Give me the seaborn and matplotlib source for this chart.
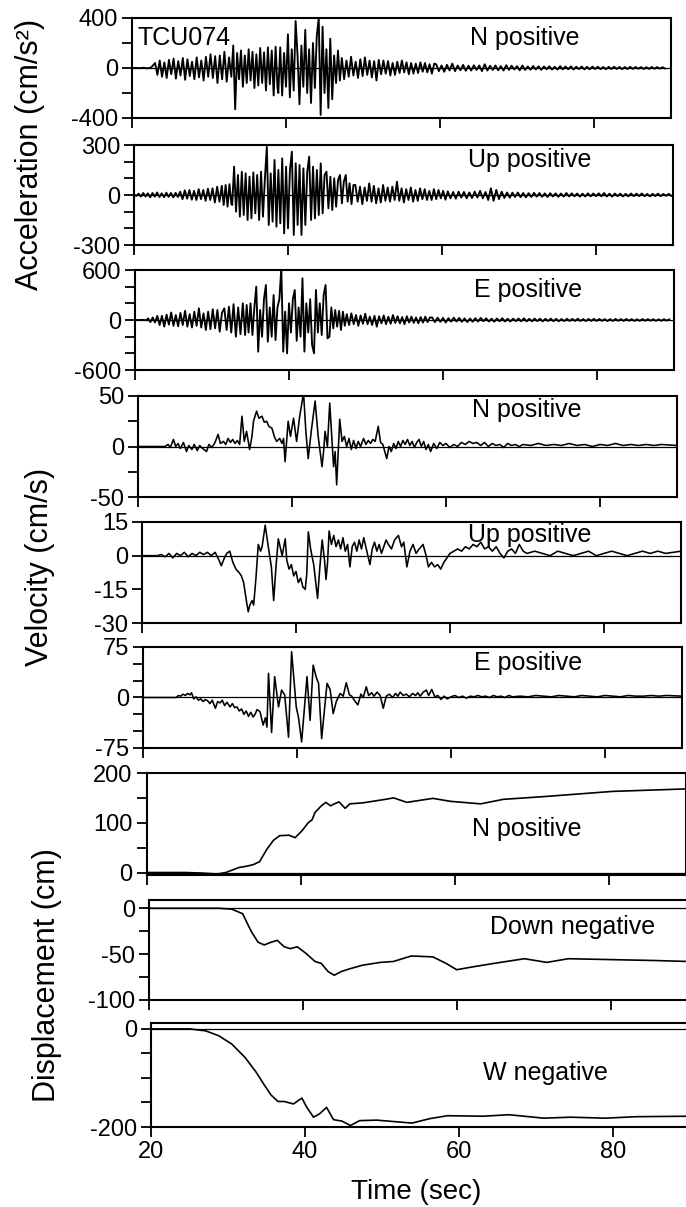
import numpy as np
import pandas as pd
import matplotlib
matplotlib.use("Agg")
import matplotlib.pyplot as plt
import seaborn as sns

# ---------------- data (TCU074) ----------------
# Acceleration traces: segments of (start time [s], sample step [s], values [cm/s^2])
ACC_N = [
    (20.0, 0.5, [0, 1, -1, 2, -3, 5]),
    (23.0, 0.3, [40, -55, 60, -70, 45, -80, 65, -50, 75, -85, 55, -60, 80, -95, 70, -65, 50,
                 -90, 85, -75, 60, -100, 90, -70, 110, -80, 95, -120, 100, -90, 130, -110, 85, -70]),
    (33.15, 0.25, [180, -330, 120, -90, 140, -150, 100, -120, 150, -100, 130, -160, 110, -140,
                   160, -120, 125, -180, 165, -130, 140, -220, 170, -160]),
    (39.0, 0.25, [-200, 165, -220, 120, -150, 270, -235, 150, -180, 375, 100, -290, 180, -150,
                  305, -200, 150, -280, 200, -160, 260, 400, -375, 330, -200, 150, -320, 235,
                  -250, 100, -120, 140, -100]),
    (47.25, 0.3, [80, -90, 60, -70, 90, -60, 50, -80, 70, -65, 85, -55, 60, -75, 55, -100, 65,
                  -50, 60, -45, 55, -60, 40, -55, 50, -40, 60, -35, 45, -50, 40, -45, 35, -40,
                  45, -30, 40, -35, 30, -45, 35]),
    (59.5, 0.35, [30, -25, 20, -30, 25, -20, 35, -25, 20, -18, 25, -22, 18, -20, 22, -15, 20,
                  -25, 30, -20, 18, -15, 20, -18, 15, -20, 22, -15, 18, -12, 15, -18, 20, -15,
                  12, -14, 16, -12, 14, -15, 12, -10, 14, -12, 10, -13, 15, -11, 12, -10, 13,
                  -12, 10, -9, 12, -11, 9, -10, 11, -8, 10, -9, 8, -10, 9, -8, 10, -7, 8, -9,
                  7, -8, 9, -7, 8, -6, 7, -8, 6, -7, 8, -6, 7, -5, 6, -5]),
]
ACC_UP = [
    (20.0, 0.3, [3, -5, 8, -10, 12, -9, 10, -14, 12, -10, 15, -12, 10, -13, 14, -11, 12, -15, 13, -12]),
    (26.0, 0.3, [20, -25, 28, -22, 30, -28, 25, -30, 35, -25, 30, -35, 38, -30, 40, -45, 50, -40]),
    (31.4, 0.25, [55, -60, 60, -70, 65, -55]),
    (32.75, 0.25, [-60, 170, -100, 120, -130, 140, -120, 130, -150, 110, -140, 135, -110, 120,
                   -150, 140, -130, 100, 290, -180, 130, -160, 210, -190, 150, -170, 220, -230,
                   170, -200, 150, 260, -240, 190, -180, 180, -240, 160, -180, 140, 230, -150,
                   170, -140, 150, -120, 190, -110, 120, 140, -80, 110, -90, 100, -70, 90, 120,
                   -50, 80, 120, -40, 70, -55, 60]),
    (48.75, 0.3, [60, -40, 50, -55, 45, -35, 70, -40, 55, -50, 40, -45, 60, -35, 45, -40, 50,
                  -30, 80, -35, 40, -45, 35, -30, 45, -40, 30, -35, 40, -25, 35, -30, 25, -30,
                  35, -25, 30, -20, 25, -28]),
    (60.75, 0.35, [22, -20, 18, -22, 20, -15, 18, -20, 15, -18, 20, -15, 25, -20, 18, -30, 40,
                   -35, 30, -25, 20, -18, 15, -16, 14, -12, 15, -13, 12, -14, 11, -12, 13, -10,
                   12, -11, 10, -12, 11, -9, 10, -11, 9, -10, 12, -9, 10, -8, 9, -10, 8, -9, 10,
                   -8, 9, -7, 10, -8, 12, -9, 8, -10, 9, -7, 8, -9, 7, -8, 9, -7, 8, -6, 9, -7,
                   6, -8, 7, -6, 8, -7, 6, -5, 7, -6]),
]
ACC_E = [
    (20.0, 0.5, [0, 0, 2, -3]),
    (21.7, 0.3, [20, -25, 30, -30, 50, -60, 50, -80, 65, -55, 90, -70, 60, -75, 85, -60, 110,
                 -80, 70, -90, 100, -70, 140, -90, 80, -120, 100, -110, 130, -100, 120, -140, 90]),
    (31.6, 0.3, [140, -120, 160, -150, 190, -200, 150, -170, 200, -180]),
    (34.5, 0.25, [180, -150, 200, -180, 150, 400, -380, 120, -200, 250, 420, -260, 150, -200,
                  300, -240, 150, 250, 620, -380, 100, -400, 200, -150, 250, 360, -250, 150,
                  -200, 500, -380, 200, -150, 250, -300, -400, 360, -150, 200, -180, 300, 420,
                  -220, -200, 150, -100, 120, -80, 110, -120, 100, -70]),
    (47.5, 0.3, [70, -60, 80, -50, 60, -70, 55, -45, 75, -50, 40, -60, 50, -80, 45, -40, 55,
                 -50, 40, -45, 60, -35, 45, -40, 35, -50, 45, -30, 40, -35, 30, -40, 35, -30,
                 40, -25, 30]),
    (58.6, 0.35, [30, -25, 28, -22, 25, -30, 22, -20, 28, -18, 25, -22, 20, -25, 18, -20, 22,
                  -18, 25, -15, 20, -18, 16, -20, 18, -15, 22, -17, 15, -18, 16, -14, 18, -15,
                  20, -16, 14, -15, 17, -13, 15, -16, 14, -12, 16, -14, 13, -15, 12, -13, 14,
                  -12, 13, -11, 15, -12, 11, -13, 12, -10, 14, -11, 12, -10, 11, -12, 10, -11,
                  12, -9, 11, -10, 12, -9, 10, -11, 9, -10, 11, -9, 10, -8, 9, -10, 8, -9, 10,
                  -8, 9]),
]

# Velocity traces: (time [s], value [cm/s])
VEL_N = [(20, 0), (23.5, 0), (23.9, 2), (24.2, -1), (24.6, 7), (24.9, 0), (25.2, 3), (25.5, -2),
         (25.9, 4), (26.3, -5), (26.6, 1), (27.0, -3), (27.3, 2), (27.7, -4), (28.0, 1), (28.4, -2),
         (28.9, -5), (29.2, 2), (29.6, -1), (30.0, 4), (30.4, 12), (30.7, 3), (31.1, 5), (31.4, 2),
         (31.7, 8), (32.0, 4), (32.3, 7), (32.6, 3), (32.9, 6), (33.2, 2), (33.5, 30), (33.8, 5),
         (34.1, 15), (34.5, -3), (34.8, 10), (35.0, 25), (35.4, 35), (35.7, 28), (36.1, 30),
         (36.4, 24), (36.7, 25), (37.0, 20), (37.4, 18), (37.7, 10), (38.0, 5), (38.4, 8),
         (38.7, 3), (38.9, 8), (39.1, -15), (39.5, 25), (39.8, 10), (40.2, 28), (40.6, 5),
         (41.0, 30), (41.5, 53), (41.8, 15), (42.1, -12), (42.5, 15), (43.0, 45), (43.4, 10),
         (43.9, -20), (44.1, -5), (44.3, 15), (44.6, 0), (44.9, 43), (45.2, 5), (45.4, -20),
         (45.6, -5), (45.8, -38), (46.2, 27), (46.5, 5), (46.8, 10), (47.1, 0), (47.4, 8),
         (47.7, -3), (48.0, 6), (48.3, -2), (48.6, 5), (48.9, 0), (49.3, 8), (49.6, 2), (49.9, 6),
         (50.2, 3), (50.5, 7), (50.8, 5), (51.2, 20), (51.5, 4), (51.8, 2), (52.3, -12), (52.6, 0),
         (52.9, -5), (53.2, 3), (53.5, -2), (53.8, 5), (54.1, 0), (54.4, 6), (54.7, 2), (55.0, 7),
         (55.3, 1), (55.6, 5), (55.9, -1), (56.2, 4), (56.5, 7), (56.8, 0), (57.1, 5), (57.4, -3),
         (57.7, 2), (58.0, -5), (58.4, 3), (58.8, -2), (59.2, 4), (59.6, 1), (60, 3), (60.5, -1),
         (61, 2), (61.5, 0), (62, 4), (62.5, 2), (63, 5), (63.5, 3), (64, 4), (64.5, 1), (65, 4),
         (65.5, 0), (66, 3), (66.5, 1), (67, 2), (67.5, -1), (68, 3), (68.5, 1), (69, 2), (69.5, 0),
         (70, 2), (71, 1), (72, 3), (73, 1), (74, 2), (75, 1), (76, 3), (77, 1), (78, 2), (79, 0),
         (80, 2), (81, 1), (82, 3), (83, 1), (84, 2), (85, 1), (86, 2), (87, 1), (88, 2), (90, 1)]
VEL_UP = [(20, 0), (22, 0), (22.5, 0.5), (23, -0.5), (23.5, 1), (24, -1), (24.5, 1), (25, 0),
          (25.5, 1.5), (26, -0.5), (26.5, 1), (27, 0), (27.5, 1.5), (28, 0.5), (28.5, 1.5), (29, 0),
          (29.5, 1.5), (30, -2), (30.3, -4.5), (30.7, -1), (31.0, 1), (31.4, 2), (31.8, -3),
          (32.2, -6), (32.6, -7.5), (32.9, -9), (33.2, -12), (33.6, -21), (33.8, -25), (34.0, -22),
          (34.3, -20), (34.5, -22), (34.8, -10), (35.1, 5), (35.4, 2), (35.6, 4), (36.0, 13.6),
          (36.4, 4), (36.8, -5), (37.1, -20), (37.4, -5), (37.7, 7.5), (38.0, 3), (38.2, 0),
          (38.6, 7.5), (38.8, -2), (39.1, -6), (39.4, -4), (39.7, -9), (40.0, -7), (40.3, -12),
          (40.6, -10), (40.9, -14), (41.2, -15), (41.4, -8), (41.6, 10.6), (41.9, 3), (42.3, -4),
          (42.5, -10), (42.8, -19), (43.1, -5), (43.4, 7), (43.7, -2), (43.9, -10.6), (44.1, -3),
          (44.3, 11), (44.6, 5), (44.9, 9), (45.2, 4), (45.5, 7), (45.8, 3), (46.1, 8), (46.4, 2),
          (46.7, 5), (47.0, -5), (47.3, 4), (47.6, 6), (47.9, 2), (48.2, 7), (48.5, 3), (48.8, 8),
          (49.2, 2), (49.6, -4), (49.9, 3), (50.2, 6), (50.5, 2), (50.8, 5), (51.1, 1), (51.4, 4),
          (51.7, 7), (52.0, 5), (52.4, 3), (52.8, 7), (53.3, 9), (53.7, 4), (54.0, 6), (54.4, -5),
          (54.8, 2), (55.2, 5), (55.6, 1), (56.0, 3), (56.5, 5), (56.9, 0), (57.2, -5), (57.6, -3),
          (58.0, -5), (58.4, -4), (58.8, -6), (59.2, -3), (59.6, -1), (60, 1), (60.5, 2), (61, 3),
          (61.5, 2), (62, 4), (62.5, 3), (63, 5), (63.5, 4), (64, 6), (64.5, 3), (65, 4), (65.5, 2),
          (66, 4), (66.5, 1), (67, -1), (67.5, 2), (68, 3), (68.5, 1), (69, 5), (69.5, 2), (70, 1),
          (71, 2), (72, 1), (73, 0), (74, 2), (75, 1), (76, 0), (77, 1), (78, 2), (79, 0), (80, 1),
          (81, 2), (82, 1), (83, 0), (84, 1), (85, 2), (86, 1), (87, 2), (88, 1), (90, 2)]
VEL_E = [(20, 0), (24.3, 0), (24.6, 3), (24.9, 2), (25.2, 5), (25.5, 3), (25.8, 6), (26.1, 4),
         (26.3, 7), (26.6, -2), (26.9, 1), (27.2, -4), (27.5, -2), (27.8, -6), (28.1, -3),
         (28.4, -5), (28.7, -9), (29.0, -4), (29.4, -16), (29.7, -6), (30.0, -8), (30.3, -4),
         (30.6, -12), (30.9, -7), (31.3, -14), (31.6, -9), (31.9, -15), (32.2, -14), (32.5, -20),
         (32.8, -17), (33.1, -25), (33.4, -20), (33.7, -28), (34.0, -22), (34.3, -29), (34.6, -24),
         (34.8, -18), (35.2, -21), (35.6, -41), (35.9, -30), (36.1, -44), (36.3, 36), (36.7, -52),
         (37.1, 31), (37.6, -14), (38.0, 11), (38.4, 4), (38.9, -59), (39.3, 68), (39.9, -14),
         (40.2, -30), (40.6, -66), (41.3, 31), (41.7, -34), (42.1, 48), (42.5, 30), (42.8, 21),
         (43.2, -61), (43.9, 21), (44.3, 12), (44.7, -24), (45.1, -6), (45.6, 6), (46.0, 2),
         (46.4, 22), (46.8, 4), (47.1, 2), (47.5, -5), (47.9, -11), (48.3, 5), (48.6, 0), (49.0, 16),
         (49.3, 3), (49.7, 7), (50.0, 2), (50.4, 8), (50.8, 3), (51.2, -16), (51.6, 2), (52.0, 5),
         (52.4, 0), (52.8, 6), (53.1, 2), (53.4, 8), (53.8, 3), (54.2, 5), (54.6, 1), (55.0, 6),
         (55.4, 3), (55.7, 7), (56.0, 2), (56.4, 8), (56.8, 11), (57.1, 3), (57.5, 12), (57.9, 1),
         (58.3, 3), (58.7, -3), (59.1, 2), (59.5, -2), (60, 1), (60.5, 3), (61, 0), (61.5, 2),
         (62, -1), (62.5, 2), (63, 1), (63.5, 3), (64, 1), (64.5, 2), (65, 0), (65.5, 3), (66, 1),
         (66.5, 2), (67, 0), (67.5, 3), (68, 1), (69, 2), (70, 1), (71, 3), (72, 2), (73, 1),
         (74, 3), (75, 2), (76, 1), (77, 3), (78, 2), (79, 1), (80, 3), (81, 2), (82, 1), (83, 3),
         (84, 2), (85, 2), (86, 3), (87, 2), (88, 3), (90, 2)]

# Displacement traces: (time [s], value [cm])
DIS_N = [(20, 0), (25, 0), (27, -1), (29.2, -3), (30.3, 0), (32, 10), (33.1, 13), (33.9, 16),
         (34.7, 22), (35.6, 46), (36.5, 65), (37.3, 74), (38.5, 75), (39.3, 70), (40.2, 84),
         (41, 100), (41.5, 106), (41.9, 121), (42.7, 134), (43.3, 141), (43.9, 134), (44.4, 138),
         (45, 142), (45.8, 129), (46.4, 138), (48.1, 140), (51, 147), (52.1, 150), (53.8, 141),
         (57.2, 149), (59.5, 143), (63.4, 138), (66.3, 147), (72, 153), (80.5, 163), (90, 168)]
DIS_DOWN = [(20, 0), (29.1, 0), (30.8, -1), (32.2, -6), (33.3, -25), (34.2, -37), (35.0, -40),
            (35.9, -37), (36.7, -35), (37.6, -42), (38.4, -44), (39.3, -42), (40.4, -49),
            (41.6, -58), (42.4, -60), (43.3, -69), (44.1, -73), (45.0, -69), (46.1, -66),
            (47.8, -62), (50.1, -59), (51.8, -58), (54.1, -52), (56.9, -53), (58.6, -60),
            (60.0, -67), (62.0, -64), (64.9, -60), (68.8, -55), (71.7, -59), (74.5, -55),
            (80.2, -56), (85.9, -57), (90, -58)]
DIS_W = [(20, 0), (25, 0), (27.1, -4), (28.8, -14), (30.5, -31), (32.2, -58), (33.6, -87),
         (34.7, -114), (35.6, -135), (36.5, -148), (37.3, -148), (38.5, -153), (39.6, -141),
         (40.2, -159), (41.1, -180), (41.9, -173), (42.8, -160), (43.7, -185), (44.8, -188),
         (45.9, -197), (47.1, -187), (49.3, -186), (51.6, -189), (53.9, -192), (56.2, -183),
         (58.5, -177), (63.1, -178), (66.5, -175), (71, -182), (74.5, -180), (79, -182),
         (83, -179), (90, -178)]

COMPONENT_LABELS = ["N positive", "Up positive", "E positive",
                    "N positive", "Up positive", "E positive",
                    "N positive", "Down negative", "W negative"]
Y_LIMITS = [(-400, 400), (-300, 300), (-600, 600), (-50, 50), (-30, 15), (-75, 75),
            (-5, 200), (-100, 9), (-200, 12)]
Y_TICKS = [[-400, -200, 0, 200, 400], [-300, -200, -100, 0, 100, 200, 300],
           [-600, -400, -200, 0, 200, 400, 600], [-50, -25, 0, 25, 50], [-30, -15, 0, 15],
           [-75, -50, -25, 0, 25, 50, 75], [0, 50, 100, 150, 200], [-100, -75, -50, -25, 0],
           [-200, -150, -100, -50, 0]]
Y_TICK_LABELS = [[-400, 0, 400], [-300, 0, 300], [-600, 0, 600], [-50, 0, 50], [-30, -15, 0, 15],
                 [-75, 0, 75], [0, 100, 200], [-100, -50, 0], [-200, 0]]
X_TICKS = [20, 40, 60, 80]


def expand(segments):
    t, v = [], []
    for start, step, vals in segments:
        t.extend(start + step * np.arange(len(vals)))
        v.extend(vals)
    return pd.DataFrame({"t": t, "v": v})


def pairs(p):
    t, v = zip(*p)
    return pd.DataFrame({"t": t, "v": v})


traces = [expand(ACC_N), expand(ACC_UP), expand(ACC_E),
          pairs(VEL_N), pairs(VEL_UP), pairs(VEL_E),
          pairs(DIS_N), pairs(DIS_DOWN), pairs(DIS_W)]

# ---------------- layout (pixels of the 686x1207 reference) ----------------
W, H = 686, 1207
LEFTS = [132, 134, 135, 138, 142, 143, 146.5, 148.7, 151]
TOPS = [18, 145, 270, 396, 522, 647, 773, 900, 1023]
BOTTOMS = [118, 245, 370, 497, 623, 748, 875, 1000, 1127]
WIDTH_PX = 539
LABEL_POS = [(71, 240), (71.4, 210), (71, 360), (70.5, 36), (70.4, 9), (70, 51),
             (69.4, 88), (75, -20), (71.2, -90)]
LINE_WIDTHS = [1.35, 1.35, 1.35, 1.15, 1.15, 1.15, 1.2, 1.2, 1.2]

sns.set_theme(style="ticks")
plt.rcParams["font.family"] = ["Liberation Sans", "DejaVu Sans"]
for key in ["text.color", "axes.labelcolor", "xtick.color", "ytick.color",
            "xtick.labelcolor", "ytick.labelcolor", "axes.edgecolor"]:
    plt.rcParams[key] = "black"

fig = plt.figure(figsize=(6.86, 12.07), dpi=100)
fig.patch.set_facecolor("white")

for i, df in enumerate(traces):
    ax = fig.add_axes([LEFTS[i] / W, 1 - BOTTOMS[i] / H, WIDTH_PX / W,
                       (BOTTOMS[i] - TOPS[i]) / H])
    ax.set_facecolor("white")
    sns.lineplot(data=df, x="t", y="v", ax=ax, color="black", linewidth=LINE_WIDTHS[i],
                 estimator=None, sort=True)
    ax.axhline(0, color="black", linewidth=0.9, zorder=1)
    ax.set_xlim(20, 90)
    ax.set_ylim(*Y_LIMITS[i])
    ax.set_xticks(X_TICKS)
    if i == len(traces) - 1:
        ax.set_xticklabels([str(x) for x in X_TICKS])
    else:
        ax.set_xticklabels([])
    ax.set_yticks(Y_TICKS[i])
    ax.set_yticklabels([str(y) if y in Y_TICK_LABELS[i] else "" for y in Y_TICKS[i]])
    ax.tick_params(axis="both", direction="out", length=7, width=1.3, colors="black",
                   labelcolor="black", labelsize=17, pad=3)
    ax.set_xlabel("")
    ax.set_ylabel("")
    for s in ax.spines.values():
        s.set_visible(True)
        s.set_linewidth(1.5)
        s.set_color("black")
    lx, ly = LABEL_POS[i]
    ax.text(lx, ly, COMPONENT_LABELS[i], ha="center", va="center", fontsize=18, color="black")
    if i == 0:
        ax.text(20.7, 240, "TCU074", ha="left", va="center", fontsize=18, color="black")

fig.text(30 / W, 1 - 154 / H, "Acceleration (cm/s²)", rotation=90, ha="center", va="center",
         fontsize=22, color="black")
fig.text(40 / W, 1 - 567 / H, "Velocity (cm/s)", rotation=90, ha="center", va="center",
         fontsize=22, color="black")
fig.text(47 / W, 1 - 975 / H, "Displacement (cm)", rotation=90, ha="center", va="center",
         fontsize=22, color="black")
fig.text(416 / W, 1 - 1192 / H, "Time (sec)", ha="center", va="center", fontsize=20,
         color="black")

fig.savefig("out.png", dpi=100, facecolor="white")
